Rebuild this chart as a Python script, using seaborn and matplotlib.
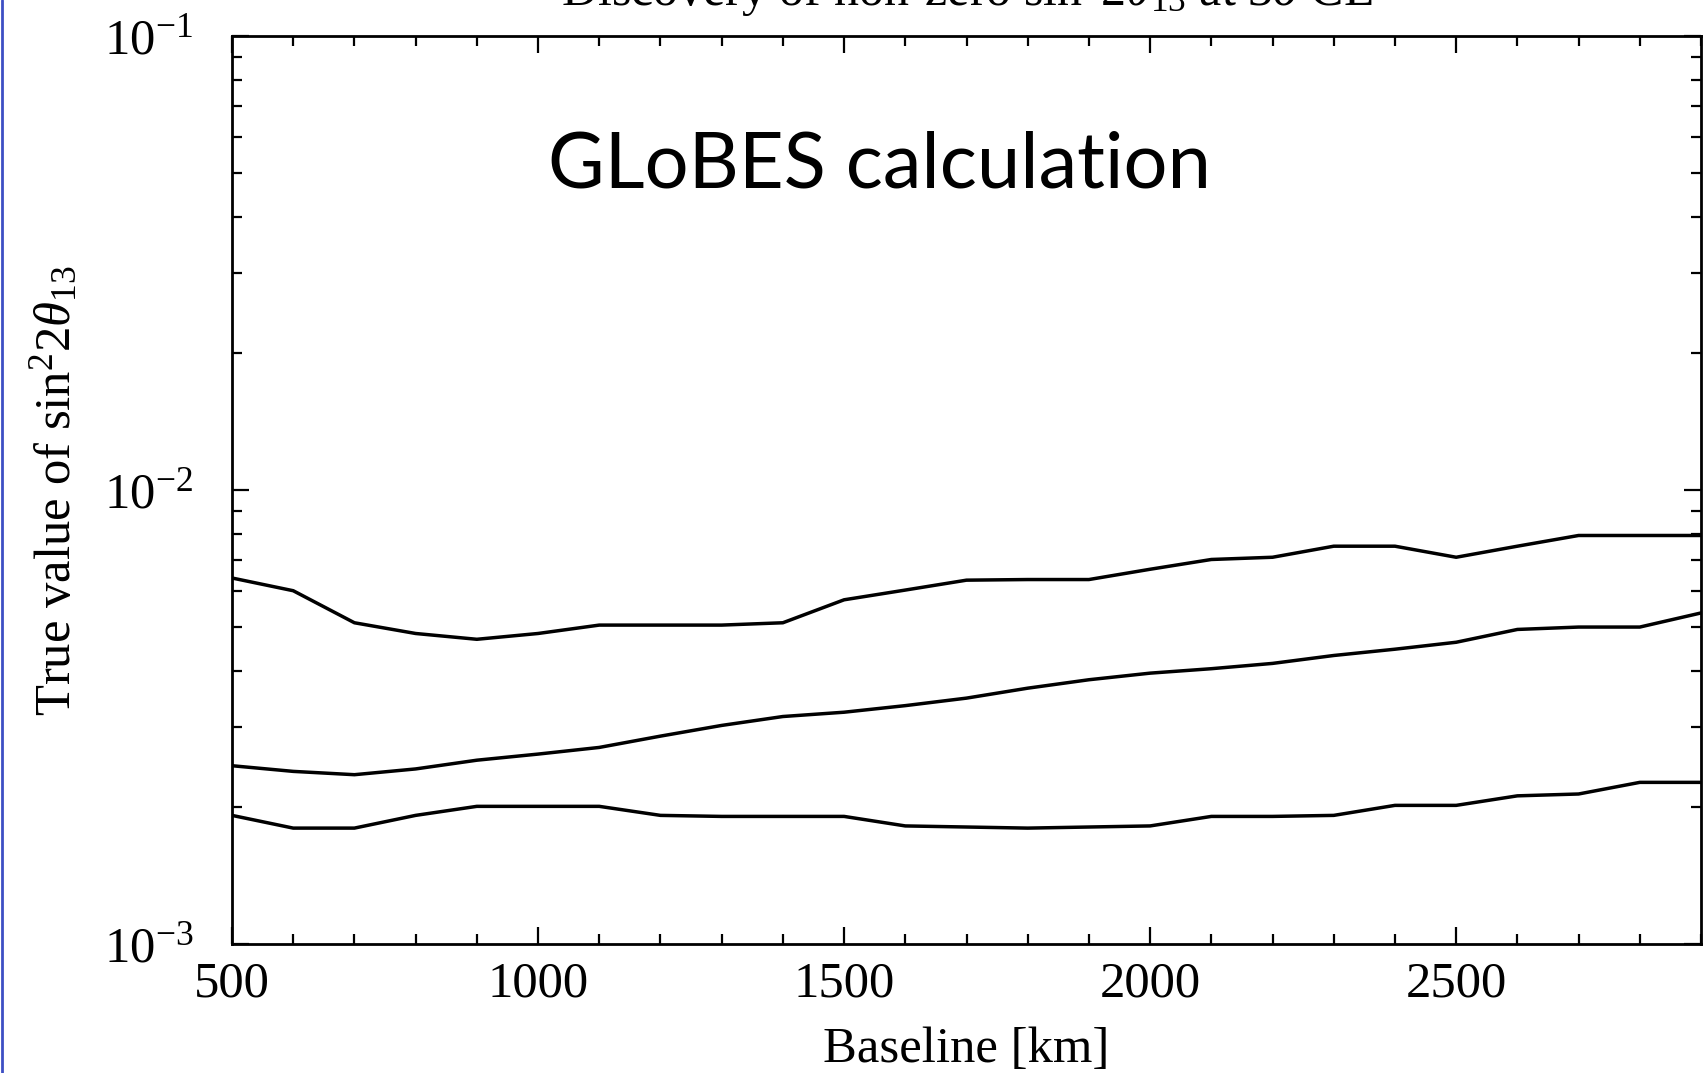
import matplotlib
matplotlib.use("Agg")
import matplotlib.pyplot as plt
import pandas as pd
import seaborn as sns
from matplotlib.lines import Line2D
from matplotlib.ticker import LogLocator, MultipleLocator, NullFormatter, LogFormatterMathtext

# Baseline grid [km] and 3 sigma discovery reach curves
baseline_km = [500, 600, 700, 800, 900, 1000, 1100, 1200, 1300, 1400, 1500, 1600, 1700,
               1800, 1900, 2000, 2100, 2200, 2300, 2400, 2500, 2600, 2700, 2800, 2900]
upper = [0.0064, 0.0060, 0.0051, 0.00483, 0.00469, 0.00483, 0.00504, 0.00504, 0.00504,
         0.00510, 0.00573, 0.00602, 0.00633, 0.00635, 0.00635, 0.00669, 0.00703, 0.00711,
         0.00752, 0.00752, 0.00711, 0.00752, 0.00794, 0.00794, 0.00794]
middle = [0.00247, 0.00240, 0.00236, 0.00243, 0.00254, 0.00262, 0.00271, 0.00287, 0.00303,
          0.00317, 0.00324, 0.00335, 0.00348, 0.00366, 0.00382, 0.00395, 0.00404, 0.00415,
          0.00432, 0.00446, 0.00462, 0.00493, 0.00499, 0.00499, 0.00536]
lower = [0.00192, 0.00180, 0.00180, 0.00192, 0.00201, 0.00201, 0.00201, 0.00192, 0.00191,
         0.00191, 0.00191, 0.00182, 0.00181, 0.00180, 0.00181, 0.00182, 0.00191, 0.00191,
         0.00192, 0.00202, 0.00202, 0.00212, 0.00214, 0.00227, 0.00227]

df = pd.concat([
    pd.DataFrame({"baseline": baseline_km, "value": upper, "curve": "upper"}),
    pd.DataFrame({"baseline": baseline_km, "value": middle, "curve": "middle"}),
    pd.DataFrame({"baseline": baseline_km, "value": lower, "curve": "lower"}),
])

sns.set_style("white")
plt.rcParams["font.family"] = ["Liberation Serif", "DejaVu Serif"]
plt.rcParams["text.color"] = "black"
plt.rcParams["axes.labelcolor"] = "black"
plt.rcParams["mathtext.fontset"] = "custom"
plt.rcParams["mathtext.rm"] = "Liberation Serif"
plt.rcParams["mathtext.it"] = "Liberation Serif:italic"
plt.rcParams["mathtext.bf"] = "Liberation Serif:bold"

W, H = 1708, 1073
fig = plt.figure(figsize=(W / 100, H / 100), dpi=100)
ax = fig.add_axes([232 / W, 1 - 944 / H, (1701 - 232) / W, (944 - 36) / H])

sns.lineplot(data=df, x="baseline", y="value", units="curve", estimator=None,
             color="black", linewidth=2.5, ax=ax)

ax.set_yscale("log")
ax.set_xlim(500, 2900)
ax.set_ylim(1e-3, 1e-1)

ax.xaxis.set_major_locator(MultipleLocator(500))
ax.xaxis.set_minor_locator(MultipleLocator(100))
ax.yaxis.set_major_locator(LogLocator(base=10, numticks=10))
ax.yaxis.set_major_formatter(LogFormatterMathtext())
ax.yaxis.set_minor_locator(LogLocator(base=10, subs=range(2, 10), numticks=20))
ax.yaxis.set_minor_formatter(NullFormatter())

ax.tick_params(which="both", direction="in", top=True, right=True,
               bottom=True, left=True, color="black",
               labelsize=36.5, labelcolor="black")
ax.tick_params(which="major", length=12, width=1.6)
ax.tick_params(which="minor", length=7, width=1.6)
ax.tick_params(axis="y", which="major", pad=28)
ax.tick_params(axis="x", which="major", pad=12)

for sp in ax.spines.values():
    sp.set_visible(True)
    sp.set_color("black")
    sp.set_linewidth(2.0)

ax.set_xlabel("Baseline [km]", fontsize=36.5, labelpad=14, color="black")
ax.set_ylabel(r"True value of sin$^2 2\theta_{13}$", fontsize=36.5, labelpad=16,
              color="black")

ax.text(0.441, 0.857, "GLoBES calculation", transform=ax.transAxes,
        family="Lato", fontsize=56, ha="center", va="center", color="black")

fig.text(967 / W, 1 - 5 / H, r"Discovery of non-zero sin$^2 2\theta_{13}$ at 3$\sigma$ CL",
         ha="center", va="baseline", fontsize=36, color="black")

fig.add_artist(Line2D([0.0012, 0.0012], [0, 1], transform=fig.transFigure,
                      color="#3d4fc4", linewidth=2))

fig.savefig("out.png", dpi=100)
